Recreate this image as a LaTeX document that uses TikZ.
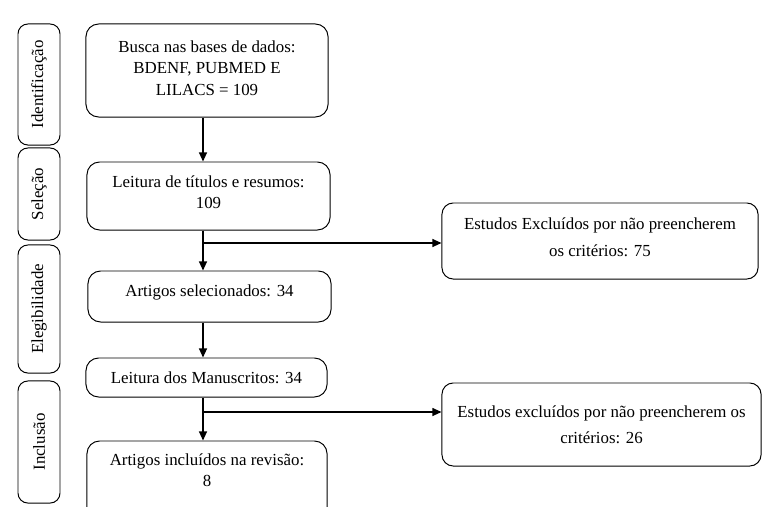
\documentclass[tikz,border=0pt]{standalone}
\usepackage{fontspec}
\setmainfont{Liberation Serif}
\usetikzlibrary{arrows.meta}

\begin{document}
\begin{tikzpicture}[x=0.025cm,y=-0.025cm,>={Triangle[length=6.5pt,width=5.7pt]},line width=0.95pt,
  box/.style={draw,line width=0.7pt,rounded corners=9pt,align=center,inner sep=2pt,font=\fontsize{12}{14.5}\selectfont},
  phase/.style={box,rotate=90,rounded corners=7pt,minimum height=1.05cm},
  lift/.style={text depth=#1}]
    \useasboundingbox (0,0) rectangle (762,506);
    \clip (0,0) rectangle (762,506);

    % fases
    \node[phase,minimum width=3.025cm] (ident) at (39,84.5) {Identificação};
    \node[phase,minimum width=2.3cm] (selec) at (39,194) {Seleção};
    \node[phase,minimum width=3.2cm] (elegi) at (39,309) {Elegibilidade};
    \node[phase,minimum width=3.05cm] (inclu) at (39,442) {Inclusão};

    % fluxo principal
    \node[box,minimum width=6.05cm,minimum height=2.325cm,lift=3.5pt] (busca) at (207,70.5) {Busca nas bases de dados:\\[1pt] BDENF, PUBMED E\\[1pt] LILACS = 109};
    \node[box,minimum width=6.075cm,minimum height=1.7cm,lift=5.7pt] (leitura) at (208.5,196) {Leitura de títulos e resumos:\\ 109};
    \node[box,minimum width=6.075cm,minimum height=1.275cm,lift=8.5pt] (artigos) at (209.5,296.5) {Artigos selecionados: 34};
    \node[box,minimum width=6.025cm,minimum height=0.975cm] (manus) at (206.5,377.5) {Leitura dos Manuscritos: 34};
    \node[box,minimum width=6cm,minimum height=1.975cm,lift=15pt] (incl) at (207,480.5) {Artigos incluídos na revisão:\\ 8};

    % excluidos
    \node[box,rounded corners=8pt,minimum width=7.9cm,minimum height=1.9cm,lift=5pt] (ex1) at (600,241) {Estudos Excluídos por não preencherem\\[4.5pt] os critérios: 75};
    \node[box,rounded corners=8pt,minimum width=7.975cm,minimum height=2.075cm] (ex2) at (601.5,424.5) {Estudos excluídos por não preencherem os\\[4pt] critérios: 26};

    \coordinate (spine) at (203,0);
    \coordinate (j1) at (203,243);
    \coordinate (j2) at (203,412);

    \draw[->] (busca.south -| spine) -- (leitura.north -| spine);
    \draw[->] (leitura.south -| spine) -- (artigos.north -| spine);
    \draw[->] (j1) -- (j1 -| ex1.west);
    \draw[->] (artigos.south -| spine) -- (manus.north -| spine);
    \draw[->] (manus.south -| spine) -- (incl.north -| spine);
    \draw[->] (j2) -- (j2 -| ex2.west);
\end{tikzpicture}
\end{document}
